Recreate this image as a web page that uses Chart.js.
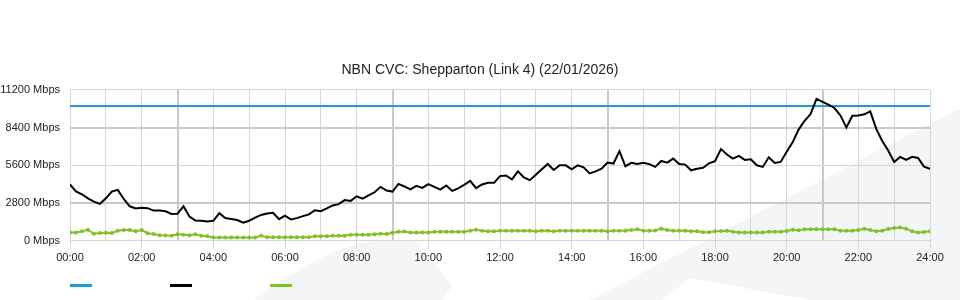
<!DOCTYPE html>
<html>
<head>
<meta charset="utf-8">
<title>NBN CVC: Shepparton (Link 4)</title>
<script src="https://cdn.jsdelivr.net/npm/chart.js@4.4.1/dist/chart.umd.min.js"></script>
<style>
    html, body { margin: 0; padding: 0; background: #fff; }
    #wrap { width: 960px; height: 300px; }
</style>
</head>
<body>
<div id="wrap"><canvas id="cvcChart" width="960" height="300"></canvas></div>
<script>
// Title of the graph
const chartTitle = 'NBN CVC: Shepparton (Link 4) (22/01/2026)';

// Samples are every 10 minutes, 00:00 -> 24:00 (145 points)
const sampleStep = 10;

// Traffic in Mbps (black line)
const trafficMbps = [
    4180, 3660, 3450, 3150, 2900, 2740, 3150, 3650, 3780, 3100,
    2560, 2400, 2450, 2420, 2240, 2240, 2190, 1990, 2000, 2560,
    1800, 1500, 1490, 1430, 1480, 2050, 1690, 1610, 1540, 1350,
    1490, 1720, 1920, 2030, 2080, 1600, 1860, 1580, 1680, 1830,
    1960, 2270, 2200, 2400, 2620, 2720, 3020, 2960, 3300, 3120,
    3370, 3600, 4000, 3730, 3650, 4220, 4030, 3810, 4080, 3920,
    4200, 4000, 3800, 4100, 3700, 3890, 4150, 4450, 3900, 4180,
    4300, 4300, 4800, 4850, 4560, 5150, 4700, 4500, 4900, 5300,
    5700, 5250, 5600, 5600, 5300, 5600, 5450, 5000, 5150, 5350,
    5800, 5730, 6650, 5530, 5780, 5700, 5790, 5690, 5480, 5920,
    5800, 6100, 5700, 5650, 5230, 5350, 5420, 5750, 5900, 6800,
    6400, 6100, 6300, 6000, 6050, 5600, 5480, 6200, 5780, 5850,
    6600, 7300, 8250, 8900, 9400, 10530, 10300, 10100, 9850, 9300,
    8400, 9280, 9300, 9380, 9600, 8300, 7400, 6700, 5850, 6220,
    6000, 6230, 6140, 5500, 5330
];

// Second series in Mbps (green line)
const otherMbps = [
    620, 620, 700, 820, 520, 580, 600, 580, 740, 800,
    800, 700, 800, 560, 500, 420, 390, 370, 480, 440,
    420, 480, 370, 330, 250, 250, 250, 250, 250, 250,
    250, 250, 380, 270, 260, 260, 260, 260, 260, 260,
    260, 330, 330, 330, 370, 370, 370, 450, 450, 450,
    450, 480, 520, 500, 600, 680, 690, 620, 620, 620,
    620, 670, 670, 670, 670, 670, 670, 740, 820, 750,
    700, 700, 740, 750, 750, 750, 750, 750, 700, 740,
    750, 700, 750, 750, 750, 750, 750, 750, 750, 750,
    700, 740, 740, 740, 800, 850, 750, 750, 760, 900,
    800, 750, 750, 750, 700, 700, 640, 640, 700, 720,
    750, 680, 620, 620, 620, 620, 620, 680, 680, 680,
    720, 820, 780, 860, 860, 860, 860, 860, 860, 750,
    750, 750, 800, 900, 800, 700, 740, 880, 950, 980,
    900, 700, 620, 650, 700
];

// Link capacity (blue line), start and end of day
const capacityMinutes = [0, 1440];
const capacityMbps = [10000, 10000];

// Axis ticks
const yTicks = [0, 2800, 5600, 8400, 11200];
const xTickLabels = ['00:00', '02:00', '04:00', '06:00', '08:00', '10:00', '12:00',
                     '14:00', '16:00', '18:00', '20:00', '22:00', '24:00'];

const toPoints = (values) => values.map((v, i) => ({ x: i * sampleStep, y: v }));

Chart.defaults.font.family = '"Liberation Sans", Arial, sans-serif';
Chart.defaults.font.size = 11;
Chart.defaults.color = '#333';

// light grey watermark shapes behind the graph
const watermark = {
    id: 'watermark',
    beforeDraw(chart) {
        const ctx = chart.ctx;
        ctx.save();
        ctx.fillStyle = '#f4f5f7';
        ctx.beginPath();
        ctx.moveTo(253, 300);
        ctx.quadraticCurveTo(330, 245, 372, 241);
        ctx.lineTo(416, 241);
        ctx.lineTo(452, 285);
        ctx.lineTo(443, 300);
        ctx.closePath();
        ctx.fill();
        ctx.beginPath();
        ctx.moveTo(590, 300);
        ctx.lineTo(960, 108);
        ctx.lineTo(960, 300);
        ctx.lineTo(810, 300);
        ctx.lineTo(690, 278);
        ctx.lineTo(662, 300);
        ctx.closePath();
        ctx.fill();
        ctx.restore();
    }
};

// legend: coloured dashes only, no text
const dashLegend = {
    id: 'dashLegend',
    afterDraw(chart) {
        const ctx = chart.ctx;
        const left = chart.chartArea.left;
        ctx.save();
        chart.data.datasets.forEach((ds, i) => {
            ctx.fillStyle = ds.borderColor;
            ctx.fillRect(left + i * 100, 284, 22, 3);
        });
        ctx.restore();
    }
};

const gridDark = '#c8c8c8';
const gridLight = '#d6d6d6';

new Chart(document.getElementById('cvcChart'), {
    type: 'line',
    data: {
        datasets: [
            {
                label: 'Capacity',
                data: capacityMinutes.map((m, i) => ({ x: m, y: capacityMbps[i] })),
                borderColor: '#1d9dd8',
                borderWidth: 2,
                pointRadius: 0,
                order: 1
            },
            {
                label: 'Traffic',
                data: toPoints(trafficMbps),
                borderColor: '#000000',
                borderWidth: 2,
                pointRadius: 0,
                order: 0
            },
            {
                label: 'Other',
                data: toPoints(otherMbps),
                borderColor: '#80c12a',
                backgroundColor: '#80c12a',
                borderWidth: 2,
                pointRadius: 1,
                order: 2
            }
        ]
    },
    options: {
        responsive: false,
        animation: false,
        devicePixelRatio: 1,
        layout: { padding: { left: 0, right: 0, top: 0, bottom: 32 } },
        plugins: {
            legend: { display: false },
            tooltip: { enabled: false },
            title: {
                display: true,
                text: chartTitle,
                color: '#222',
                font: { size: 14, weight: 'normal' },
                padding: { top: 62, bottom: 11 }
            }
        },
        scales: {
            x: {
                type: 'linear',
                min: 0,
                max: 1440,
                border: { display: false },
                grid: {
                    color: (c) => (c.tick.value / 60) % 6 === 3 ? gridDark : gridLight,
                    lineWidth: (c) => (c.tick.value / 60) % 6 === 3 ? 2 : 1,
                    tickColor: (c) => c.tick.value % 120 === 0 ? gridLight : 'rgba(0,0,0,0)',
                    tickLength: 8
                },
                ticks: {
                    stepSize: 60,
                    autoSkip: false,
                    maxRotation: 0,
                    padding: 3,
                    color: '#222',
                    callback: (v) => v % 120 === 0 ? xTickLabels[v / 120] : ''
                }
            },
            y: {
                min: 0,
                max: 11200,
                border: { display: false },
                afterBuildTicks: (scale) => { scale.ticks = yTicks.map(v => ({ value: v })); },
                afterFit: (scale) => { scale.width = 70; },
                grid: {
                    color: (c) => (c.tick.value === 2800 || c.tick.value === 8400) ? gridDark : gridLight,
                    lineWidth: (c) => (c.tick.value === 2800 || c.tick.value === 8400) ? 2 : 1,
                    drawTicks: false
                },
                ticks: {
                    padding: 10,
                    color: '#222',
                    callback: (v) => v + ' Mbps'
                }
            },
            // empty right-hand axis, keeps 30px margin so the title centres on the page
            yRight: {
                position: 'right',
                min: 0,
                max: 11200,
                border: { display: false },
                grid: { display: false },
                ticks: { display: false },
                afterFit: (scale) => { scale.width = 30; }
            }
        }
    },
    plugins: [watermark, dashLegend]
});
</script>
</body>
</html>
